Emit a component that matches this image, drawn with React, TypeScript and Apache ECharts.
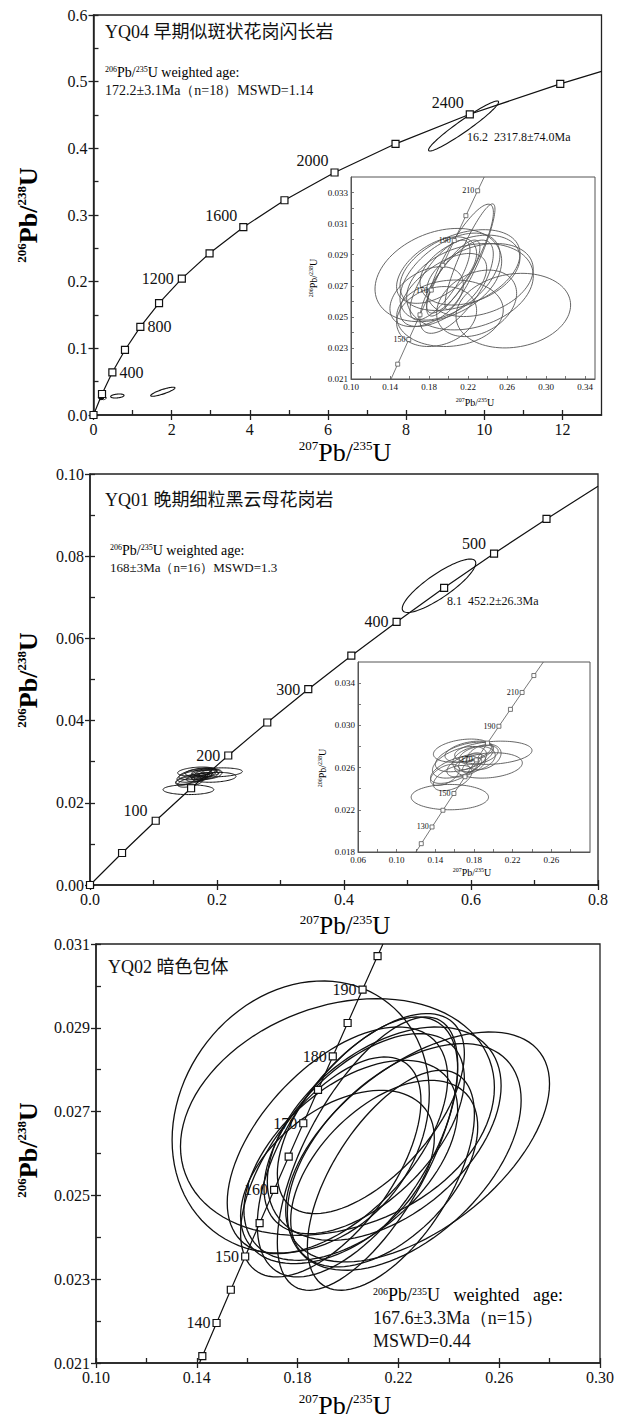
import React, { useEffect, useRef } from "react";
import * as echarts from "echarts";

const SERIF = '"Liberation Serif", "Times New Roman", serif';
const MIXED = '"Liberation Serif", "Noto Sans CJK SC", serif';

// ---------------- Panel A : YQ04 ----------------
const A_AGES = [0, 200, 400, 600, 800, 1000, 1200, 1400, 1600, 1800, 2000, 2200, 2400, 2600];
const A_X = [0, 0.2177, 0.4828, 0.8057, 1.1987, 1.6774, 2.2603, 2.9701, 3.8344, 4.8869, 6.1685, 7.7291, 9.6298, 11.9446];
const A_Y = [0, 0.03151, 0.06402, 0.09754, 0.13213, 0.16782, 0.20459, 0.24258, 0.28173, 0.32211, 0.36375, 0.40676, 0.45108, 0.49676];
const A_END = [13.0, 0.5154];
const A_LABELED = [400, 800, 1200, 1600, 2000, 2400];
// discordant spots: [x, y, sx, sy, rho]
const A_DISC = [
  [0.61, 0.0285, 0.171, 0.003, 0.3],
  [1.774, 0.0349, 0.31, 0.0068, 0.85],
  [9.47, 0.4335, 0.897, 0.0375, 0.96],
];
// concordant analyses (also shown in inset)
const A_SPOTS = [
  [0.2663, 0.0254, 0.0587, 0.0024, 0.15],
  [0.1895, 0.02769, 0.0649, 0.003, 0.3],
  [0.2117, 0.02865, 0.0342, 0.0036, 0.85],
  [0.2219, 0.02887, 0.0256, 0.0034, 0.9],
  [0.2014, 0.02759, 0.0512, 0.0028, 0.5],
  [0.2117, 0.02801, 0.0615, 0.0026, 0.4],
  [0.2219, 0.02801, 0.0512, 0.00225, 0.35],
  [0.1946, 0.02673, 0.0444, 0.00235, 0.6],
  [0.1877, 0.02502, 0.041, 0.00193, 0.2],
  [0.2014, 0.02523, 0.0546, 0.00214, 0.1],
  [0.2082, 0.02694, 0.0376, 0.003, 0.7],
  [0.1912, 0.02737, 0.0307, 0.00257, 0.75],
  [0.2321, 0.02737, 0.0546, 0.00235, 0.3],
  [0.1775, 0.0263, 0.0376, 0.00193, 0.4],
  [0.2219, 0.02694, 0.0649, 0.00278, 0.25],
  [0.2048, 0.02759, 0.0273, 0.00235, 0.8],
  [0.2287, 0.02587, 0.041, 0.00214, 0.3],
  [0.1877, 0.02801, 0.041, 0.00214, 0.5],
];
const AI_AGES = [140, 150, 160, 170, 180, 190, 200, 210];
const AI_X = [0.14784, 0.1592, 0.17068, 0.18226, 0.19396, 0.20578, 0.21771, 0.22976];
const AI_Y = [0.021955, 0.023542, 0.025131, 0.026722, 0.028316, 0.029912, 0.031511, 0.033113];
const AI_START = [0.14105, 0.021];
const AI_END = [0.23648, 0.034];
const AI_LABELED = [150, 170, 190, 210];

// ---------------- Panel B : YQ01 ----------------
const B_AGES = [0, 50, 100, 150, 200, 250, 300, 350, 400, 450, 500, 550];
const B_X = [0, 0.05048, 0.1035, 0.1592, 0.21771, 0.27917, 0.34373, 0.41155, 0.48281, 0.55767, 0.6363, 0.71891];
const B_Y = [0, 0.007786, 0.015633, 0.023542, 0.031511, 0.039543, 0.047638, 0.055795, 0.064016, 0.0723, 0.08065, 0.089064];
const B_END = [0.8, 0.097];
const B_LABELED = [100, 200, 300, 400, 500];
const B_DISC = [[0.5496, 0.0728, 0.0579, 0.0065, 0.85]];
const B_SPOTS = [
  [0.155, 0.0232, 0.04, 0.0012, 0.0],
  [0.2, 0.0274, 0.04, 0.0011, 0.2],
  [0.195, 0.0262, 0.035, 0.0012, 0.2],
  [0.17, 0.027, 0.03, 0.0014, 0.5],
  [0.165, 0.0265, 0.028, 0.0015, 0.5],
  [0.175, 0.0275, 0.025, 0.001, 0.4],
  [0.16, 0.0258, 0.025, 0.0013, 0.6],
  [0.18, 0.0268, 0.022, 0.0012, 0.3],
  [0.172, 0.0262, 0.02, 0.0011, 0.5],
  [0.168, 0.0276, 0.03, 0.0011, 0.3],
  [0.158, 0.025, 0.02, 0.0012, 0.5],
  [0.185, 0.0272, 0.02, 0.0009, 0.4],
  [0.176, 0.0266, 0.012, 0.0008, 0.6],
  [0.178, 0.0262, 0.01, 0.0007, 0.6],
  [0.15, 0.0253, 0.015, 0.001, 0.5],
  [0.19, 0.027, 0.018, 0.0012, 0.3],
];
const BI_AGES = [120, 130, 140, 150, 160, 170, 180, 190, 200, 210, 220];
const BI_X = [0.12545, 0.13659, 0.14784, 0.1592, 0.17068, 0.18226, 0.19396, 0.20578, 0.21771, 0.22976, 0.24192];
const BI_Y = [0.018789, 0.020371, 0.021955, 0.023542, 0.025131, 0.026722, 0.028316, 0.029912, 0.031511, 0.033113, 0.034717];
const BI_START = [0.11992, 0.018];
const BI_END = [0.25176, 0.036];
const BI_LABELED = [130, 150, 170, 190, 210];

// ---------------- Panel C : YQ02 ----------------
const C_AGES = [135, 140, 145, 150, 155, 160, 165, 170, 175, 180, 185, 190, 195];
const C_X = [0.14219, 0.14784, 0.1535, 0.1592, 0.16492, 0.17068, 0.17646, 0.18226, 0.1881, 0.19396, 0.19985, 0.20578, 0.21173];
const C_Y = [0.021163, 0.021955, 0.022748, 0.023542, 0.024336, 0.025131, 0.025926, 0.026722, 0.027519, 0.028316, 0.029114, 0.029912, 0.030711];
const C_START = [0.14105, 0.021];
const C_END = [0.21388, 0.031];
const C_LABELED = [140, 150, 160, 170, 180, 190];
const C_SPOTS = [
  [0.18123, 0.026872, 0.05103, 0.003246, 0.17],
  [0.19581, 0.026872, 0.06229, 0.002824, 0.25],
  [0.22762, 0.026156, 0.05235, 0.002744, 0.55],
  [0.22232, 0.025918, 0.04639, 0.002705, 0.5],
  [0.21437, 0.026474, 0.04639, 0.002546, 0.45],
  [0.20774, 0.025997, 0.03579, 0.003262, 0.65],
  [0.20376, 0.026156, 0.03976, 0.003102, 0.6],
  [0.19581, 0.026315, 0.04374, 0.002705, 0.55],
  [0.20111, 0.025838, 0.04241, 0.002387, 0.5],
  [0.20642, 0.026474, 0.03976, 0.002387, 0.55],
  [0.21437, 0.02552, 0.03711, 0.002227, 0.5],
  [0.21702, 0.025361, 0.03314, 0.002625, 0.6],
  [0.19581, 0.02544, 0.03844, 0.002068, 0.45],
  [0.20907, 0.026952, 0.03711, 0.002387, 0.6],
  [0.19316, 0.025679, 0.03579, 0.002625, 0.6],
];

// ---------------- tick labels ----------------
const A_XT = [0, 2, 4, 6, 8, 10, 12];
const A_XM = [1, 3, 5, 7, 9, 11];
const A_YT = [0, 0.1, 0.2, 0.3, 0.4, 0.5, 0.6];
const A_YM = [0.05, 0.15, 0.25, 0.35, 0.45, 0.55];
const AI_XT = [0.1, 0.14, 0.18, 0.22, 0.26, 0.3, 0.34];
const AI_XM = [0.12, 0.16, 0.2, 0.24, 0.28, 0.32];
const AI_YT = [0.021, 0.023, 0.025, 0.027, 0.029, 0.031, 0.033];
const AI_YM = [0.022, 0.024, 0.026, 0.028, 0.03, 0.032];
const B_XT = [0, 0.2, 0.4, 0.6, 0.8];
const B_XM = [0.1, 0.3, 0.5, 0.7];
const B_YT = [0, 0.02, 0.04, 0.06, 0.08, 0.1];
const B_YM = [0.01, 0.03, 0.05, 0.07, 0.09];
const BI_XT = [0.06, 0.1, 0.14, 0.18, 0.22, 0.26];
const BI_XM = [0.08, 0.12, 0.16, 0.2, 0.24, 0.28];
const BI_YT = [0.018, 0.022, 0.026, 0.03, 0.034];
const BI_YM = [0.02, 0.024, 0.028, 0.032];
const C_XT = [0.1, 0.14, 0.18, 0.22, 0.26, 0.3];
const C_XM = [0.12, 0.16, 0.2, 0.24, 0.28];
const C_YT = [0.021, 0.023, 0.025, 0.027, 0.029, 0.031];
const C_YM = [0.022, 0.024, 0.026, 0.028, 0.03];

type Spec = { min: number; max: number; labels: number[]; minor: number[]; digits: number };

function addAxis(list: any[], dim: "x" | "y", gridIndex: number, s: Spec, main: boolean) {
  const pos = dim === "x" ? "bottom" : "left";
  const idx = list.length;
  const col = main ? "#222" : "#555";
  list.push({
    type: "value", gridIndex, min: s.min, max: s.max, position: pos,
    axisLine: { show: true, onZero: false, lineStyle: { color: col, width: main ? 1.5 : 1 } },
    axisTick: {
      show: true, inside: !main, length: main ? 5 : 3,
      customValues: main ? s.labels : [...s.labels, ...s.minor],
      lineStyle: { color: col, width: main ? 1.3 : 0.8 },
    },
    axisLabel: {
      show: true, customValues: s.labels, formatter: (v: number) => v.toFixed(s.digits),
      fontFamily: SERIF, fontSize: main ? 16 : 9, color: "#111", margin: main ? 6 : 3,
    },
    splitLine: { show: false },
    z: main ? 2 : 6,
  });
  if (main) {
    list.push({
      type: "value", gridIndex, min: s.min, max: s.max, position: pos,
      axisLine: { show: false },
      axisTick: { show: true, inside: true, length: 5, customValues: [...s.labels, ...s.minor], lineStyle: { color: col, width: 1.3 } },
      axisLabel: { show: false },
      splitLine: { show: false },
    });
  }
  return idx;
}

function ellipseRender(color: string, lw: number) {
  return (params: any, api: any) => {
    const cx = api.value(0), cy = api.value(1), sx = api.value(2), sy = api.value(3), r = api.value(4);
    const k = Math.sqrt(Math.max(0, 1 - r * r));
    const pts: number[][] = [];
    const N = 100;
    for (let i = 0; i < N; i++) {
      const t = (i / N) * Math.PI * 2;
      pts.push(api.coord([cx + sx * Math.cos(t), cy + sy * (r * Math.cos(t) + k * Math.sin(t))]));
    }
    return { type: "polygon", shape: { points: pts }, style: { fill: "none", stroke: color, lineWidth: lw } };
  };
}

function concordia(ages: number[], xs: number[], ys: number[], start: number[] | null, end: number[] | null,
  labeled: number[], labelStyle: (a: number) => any) {
  const items: any[] = [];
  if (start) items.push({ value: start, symbol: "none" });
  ages.forEach((a, i) => {
    const it: any = { value: [xs[i], ys[i]] };
    if (labeled.indexOf(a) >= 0) it.label = { show: true, formatter: String(a), ...labelStyle(a) };
    items.push(it);
  });
  if (end) items.push({ value: end, symbol: "none" });
  return items;
}

const supRich = (base: number, sup: number, bold: boolean) => ({
  b: { fontSize: base, fontFamily: SERIF, fontWeight: bold ? "bold" : "normal", color: "#111" },
  s: { fontSize: sup, fontFamily: SERIF, fontWeight: bold ? "bold" : "normal", color: "#111", verticalAlign: "top" },
  n: { fontSize: base, fontFamily: SERIF, color: "#111" },
});

function ratioTitle(x: number, y: number, top: string, bot: string, size: number, sup: number, bold: boolean, rotate: boolean) {
  return {
    type: "text", x, y, rotation: rotate ? Math.PI / 2 : 0, z: 20,
    style: {
      text: `{s|${top}}{b|Pb/}{s|${bot}}{b|U}`,
      rich: supRich(size, sup, bold), align: "center", verticalAlign: "middle",
    },
  };
}

function plainText(x: number, y: number, text: string, size: number, family = SERIF) {
  return { type: "text", x, y, z: 20, style: { text, fontSize: size, fontFamily: family, fill: "#111", align: "left", verticalAlign: "middle" } };
}

function ageHeader(x: number, y: number, size: number, sup: number, gap: string) {
  return {
    type: "text", x, y, z: 20,
    style: {
      text: `{s|206}{n|Pb/}{s|235}{n|U${gap}weighted${gap}age:}`,
      rich: supRich(size, sup, false), align: "left", verticalAlign: "middle",
    },
  };
}

export default function App() {
  const ref = useRef<HTMLDivElement>(null);
  useEffect(() => {
    const chart = echarts.init(ref.current!, null, { renderer: "svg" });
    const xAxis: any[] = [];
    const yAxis: any[] = [];
    const grid = [
      { left: 93.5, top: 15, width: 508, height: 400 },
      { left: 351, top: 177, width: 244, height: 202, inset: true },
      { left: 90, top: 474, width: 508, height: 411 },
      { left: 358, top: 662, width: 232, height: 190, inset: true },
      { left: 96, top: 944, width: 504, height: 419 },
    ].map((g: any) => ({
      left: g.left, top: g.top, width: g.width, height: g.height, show: true,
      borderColor: g.inset ? "#555" : "#222", borderWidth: g.inset ? 1 : 1.3,
      backgroundColor: g.inset ? "#fff" : "transparent", z: g.inset ? 4 : 0,
      containLabel: false, outerBoundsMode: "none",
    }));

    const ax0 = addAxis(xAxis, "x", 0, { min: 0, max: 13, labels: A_XT, minor: A_XM, digits: 0 }, true);
    const ay0 = addAxis(yAxis, "y", 0, { min: 0, max: 0.6, labels: A_YT, minor: A_YM, digits: 1 }, true);
    const ax1 = addAxis(xAxis, "x", 1, { min: 0.1, max: 0.35, labels: AI_XT, minor: AI_XM, digits: 2 }, false);
    const ay1 = addAxis(yAxis, "y", 1, { min: 0.021, max: 0.034, labels: AI_YT, minor: AI_YM, digits: 3 }, false);
    const ax2 = addAxis(xAxis, "x", 2, { min: 0, max: 0.8, labels: B_XT, minor: B_XM, digits: 1 }, true);
    const ay2 = addAxis(yAxis, "y", 2, { min: 0, max: 0.1, labels: B_YT, minor: B_YM, digits: 2 }, true);
    const ax3 = addAxis(xAxis, "x", 3, { min: 0.06, max: 0.3, labels: BI_XT, minor: BI_XM, digits: 2 }, false);
    const ay3 = addAxis(yAxis, "y", 3, { min: 0.018, max: 0.036, labels: BI_YT, minor: BI_YM, digits: 3 }, false);
    const ax4 = addAxis(xAxis, "x", 4, { min: 0.1, max: 0.3, labels: C_XT, minor: C_XM, digits: 2 }, true);
    const ay4 = addAxis(yAxis, "y", 4, { min: 0.021, max: 0.031, labels: C_YT, minor: C_YM, digits: 3 }, true);

    const lineSeries = (xi: number, yi: number, data: any[], size: number, lw: number, col: string, z: number, fs: number) => ({
      type: "line", xAxisIndex: xi, yAxisIndex: yi, data, symbol: "rect", symbolSize: size, showSymbol: true,
      lineStyle: { color: col, width: lw }, itemStyle: { color: "#fff", borderColor: col, borderWidth: lw },
      label: { fontFamily: SERIF, fontSize: fs, color: "#111" },
      clip: true, silent: true, z, emphasis: { disabled: true },
    });
    const ellSeries = (xi: number, yi: number, data: number[][], col: string, lw: number, z: number) => ({
      type: "custom", xAxisIndex: xi, yAxisIndex: yi, data, renderItem: ellipseRender(col, lw),
      encode: { x: 0, y: 1 }, clip: true, silent: true, z,
    });

    const aLab = (a: number) => {
      if (a === 400 || a === 800) return { position: "right", distance: 3 };
      if (a === 1200) return { position: "left", distance: 4 };
      return { position: "left", distance: 2, offset: [0, -12] };
    };
    const bLab = (a: number) => ({ position: "left", distance: 4, offset: [0, a === 100 || a === 500 ? -10 : 0] });
    const cLab = (a: number) => ({ position: "left", distance: 2 });
    const iLab = (a: number) => ({ position: "left", distance: 1, fontSize: 8 });

    const series: any[] = [
      ellSeries(ax0, ay0, A_SPOTS, "#111", 1, 2),
      ellSeries(ax0, ay0, A_DISC, "#111", 1.1, 2),
      lineSeries(ax0, ay0, concordia(A_AGES, A_X, A_Y, null, A_END, A_LABELED, aLab), 7, 1.2, "#111", 3, 16),
      ellSeries(ax1, ay1, A_SPOTS, "#555", 0.9, 7),
      lineSeries(ax1, ay1, concordia(AI_AGES, AI_X, AI_Y, AI_START, AI_END, AI_LABELED, iLab), 4, 0.8, "#555", 8, 8),
      ellSeries(ax2, ay2, B_SPOTS, "#111", 1, 2),
      ellSeries(ax2, ay2, B_DISC, "#111", 1.1, 2),
      lineSeries(ax2, ay2, concordia(B_AGES, B_X, B_Y, null, B_END, B_LABELED, bLab), 7, 1.2, "#111", 3, 16),
      ellSeries(ax3, ay3, B_SPOTS, "#555", 0.9, 7),
      lineSeries(ax3, ay3, concordia(BI_AGES, BI_X, BI_Y, BI_START, BI_END, BI_LABELED, iLab), 4, 0.8, "#555", 8, 8),
      ellSeries(ax4, ay4, C_SPOTS, "#111", 1.3, 2),
      lineSeries(ax4, ay4, concordia(C_AGES, C_X, C_Y, C_START, C_END, C_LABELED, cLab), 7, 1.2, "#111", 3, 16),
    ];

    const graphic: any[] = [
      // panel A
      plainText(105, 32, "YQ04 早期似斑状花岗闪长岩", 18, MIXED),
      ageHeader(105, 72, 14, 8, " "),
      plainText(105, 90, "172.2±3.1Ma（n=18）MSWD=1.14", 14),
      plainText(467, 137, "16.2  2317.8±74.0Ma", 12),
      ratioTitle(345, 452, "207", "235", 26, 13, false, false),
      ratioTitle(28, 215, "206", "238", 26, 13, true, true),
      ratioTitle(475, 402, "207", "235", 10, 6, false, false),
      ratioTitle(313, 278, "206", "238", 10, 6, false, true),
      // panel B
      plainText(105, 500, "YQ01 晚期细粒黑云母花岗岩", 18, MIXED),
      ageHeader(110, 550, 14, 8, " "),
      plainText(110, 567, "168±3Ma（n=16）MSWD=1.3", 13),
      plainText(447, 601, "8.1  452.2±26.3Ma", 12),
      ratioTitle(345, 925, "207", "235", 25, 13, false, false),
      ratioTitle(28, 680, "206", "238", 26, 13, true, true),
      ratioTitle(472, 872, "207", "235", 10, 6, false, false),
      ratioTitle(322, 768, "206", "238", 10, 6, false, true),
      // panel C
      plainText(108, 967, "YQ02 暗色包体", 18, MIXED),
      ageHeader(373, 1295, 18, 10, "   "),
      plainText(373, 1318, "167.6±3.3Ma（n=15）", 18),
      plainText(373, 1341, "MSWD=0.44", 18),
      ratioTitle(345, 1405, "207", "235", 26, 13, false, false),
      ratioTitle(28, 1150, "206", "238", 26, 13, true, true),
    ];

    chart.setOption({ animation: false, backgroundColor: "#fff", grid, xAxis, yAxis, series, graphic });
    return () => chart.dispose();
  }, []);
  return <div ref={ref} style={{ position: "absolute", left: 0, top: 0, width: 618, height: 1420 }} />;
}
